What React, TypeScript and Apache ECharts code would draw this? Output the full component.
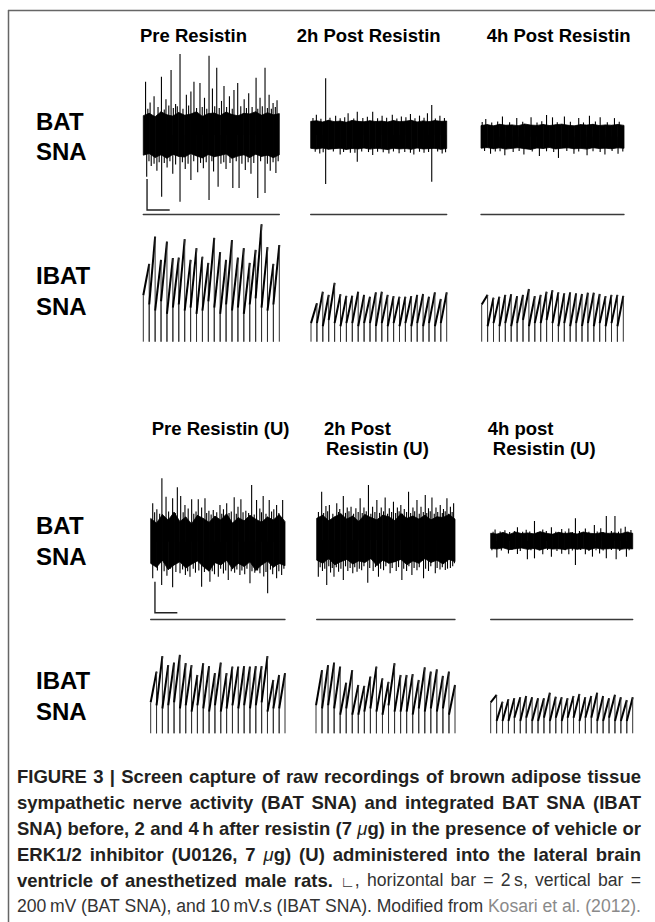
import { useEffect, useRef } from "react";
import * as echarts from "echarts";

// ================= DATA =================
// Texts
const topTitles = ["Pre Resistin", "2h Post Resistin", "4h Post Resistin"];
const bottomTitles = [["Pre Resistin (U)"], ["2h Post", "Resistin (U)"], ["4h post", " Resistin (U)"]];
const rowLabelsBat = ["BAT", "SNA"];
const rowLabelsIbat = ["IBAT", "SNA"];

// Scale bar (horizontal = 2 s, vertical = 200 mV)
const scaleBarSeconds = 2;
const scaleBarMillivolts = 200;
// anchor of the scale bar inside the first panel [s, mV]
const scaleBarAnchorTop = [0.33, -284];
const scaleBarAnchorBottom = [0.38, -258];

// BAT SNA raw recordings: 12 s per trace; envelope samples spread evenly over the trace (mV)
const panelSeconds = 12;

// --- vehicle: Pre Resistin
const batPreUpper = [125, 140, 118, 150, 130, 122, 145, 128, 135, 150, 120, 138, 142, 126, 148, 132, 124, 140, 136, 150, 128, 144, 130, 138];
const batPreLower = [-130, -120, -145, -128, -150, -125, -138, -142, -120, -135, -148, -126, -140, -132, -122, -150, -136, -128, -145, -124, -138, -130, -146, -128];
const batPreSpikesUp = [[0.2, 344], [0.4, 170], [0.6, 210], [0.95, 250], [1.3, 180], [1.6, 376], [1.85, 165], [2.0, 230], [2.25, 190], [2.45, 419], [2.65, 175], [2.85, 200], [3.0, 185], [3.24, 523], [3.5, 170], [3.8, 260], [4.0, 190], [4.2, 280], [4.47, 344], [4.7, 175], [5.0, 335], [5.2, 180], [5.4, 240], [5.6, 170], [5.8, 512], [6.1, 300], [6.3, 185], [6.48, 434], [6.7, 175], [6.9, 220], [7.12, 316], [7.35, 180], [7.6, 250], [7.85, 170], [8.0, 290], [8.33, 335], [8.6, 185], [8.9, 230], [9.1, 175], [9.3, 270], [9.6, 180], [9.95, 370], [10.1, 170], [10.3, 240], [10.5, 185], [10.74, 434], [10.95, 175], [11.1, 260], [11.3, 170], [11.45, 206], [11.65, 180], [11.8, 225]];
const batPreSpikesDown = [[0.3, -269], [0.5, -170], [0.7, -200], [0.95, -185], [1.2, -230], [1.4, -175], [1.62, -398], [1.85, -180], [2.1, -210], [2.35, -170], [2.6, -250], [2.85, -190], [3.24, -430], [3.45, -175], [3.7, -220], [3.95, -185], [4.2, -290], [4.45, -170], [4.8, -240], [5.05, -180], [5.3, -215], [5.55, -175], [5.8, -419], [6.05, -170], [6.2, -235], [6.6, -334], [6.85, -185], [7.1, -175], [7.3, -220], [7.65, -180], [7.9, -342], [8.2, -170], [8.45, -342], [8.7, -185], [9.0, -225], [9.25, -175], [9.5, -250], [9.75, -180], [10.1, -406], [10.35, -170], [10.74, -374], [10.95, -185], [11.2, -230], [11.45, -175], [11.7, -245], [11.9, -170]];

// --- vehicle: 2h Post Resistin
const bat2hUpper = [88, 92, 84, 95, 86, 90, 82, 94, 88, 85, 92, 87, 90, 84, 93, 86, 89, 95, 84, 91, 86, 93, 88, 90];
const bat2hLower = [-86, -90, -84, -92, -88, -85, -93, -87, -90, -84, -91, -86, -89, -94, -85, -90, -87, -92, -84, -90, -88, -86, -92, -87];
const bat2hSpikesUp = [[0.2, 110], [0.5, 130], [0.9, 105], [1.32, 366], [1.7, 112], [2.2, 125], [2.6, 108], [3.0, 115], [3.3, 140], [3.8, 106], [4.11, 150], [4.6, 110], [5.0, 118], [5.47, 150], [5.9, 108], [6.3, 125], [6.7, 112], [7.2, 130], [7.6, 106], [8.0, 120], [8.4, 114], [8.8, 135], [9.2, 108], [9.6, 125], [10.0, 112], [10.3, 140], [10.68, 194], [11.0, 106], [11.4, 125], [11.8, 110]];
const bat2hSpikesDown = [[0.4, -108], [0.8, -120], [1.1, -112], [1.32, -316], [2.0, -106], [2.6, -125], [2.9, -110], [3.5, -115], [3.9, -114], [4.11, -172], [4.5, -106], [5.1, -110], [5.47, -129], [5.9, -108], [6.4, -112], [6.9, -120], [7.3, -106], [7.8, -118], [8.3, -110], [8.8, -114], [9.1, -125], [9.6, -108], [10.0, -115], [10.4, -110], [10.68, -301], [11.2, -106], [11.6, -120], [11.9, -112]];

// --- vehicle: 4h Post Resistin
const bat4hUpper = [72, 78, 70, 80, 74, 76, 71, 82, 75, 73, 79, 72, 77, 81, 74, 70, 78, 75, 80, 72, 76, 74, 79, 73];
const bat4hLower = [-74, -70, -78, -72, -80, -75, -71, -77, -82, -73, -76, -70, -79, -74, -72, -78, -75, -80, -71, -76, -74, -78, -72, -75];
const bat4hSpikesUp = [[0.1, 95], [0.4, 115], [0.9, 92], [1.4, 98], [1.8, 130], [2.4, 94], [3.0, 120], [3.5, 96], [4.2, 125], [4.7, 92], [5.1, 100], [5.5, 140], [6.0, 125], [6.4, 94], [7.0, 130], [7.5, 96], [8.2, 120], [8.6, 92], [9.1, 135], [9.6, 98], [10.0, 125], [10.6, 94], [11.2, 120], [11.6, 96]];
const bat4hSpikesDown = [[0.3, -92], [0.8, -110], [1.2, -96], [1.6, -94], [2.0, -120], [2.7, -98], [3.2, -92], [3.6, -115], [4.3, -96], [4.9, -125], [5.5, -94], [6.1, -98], [6.5, -137], [7.2, -92], [7.8, -110], [8.2, -96], [8.9, -120], [9.4, -94], [10.0, -98], [10.4, -115], [11.0, -92], [11.5, -110], [11.9, -95]];

// --- U0126: Pre Resistin (U)
const batPreUUpper = [150, 120, 175, 140, 190, 130, 160, 115, 170, 150, 125, 165, 140, 180, 120, 155, 135, 170, 145, 125, 160, 140, 175, 130];
const batPreULower = [-140, -165, -120, -180, -150, -130, -170, -145, -125, -160, -190, -135, -150, -120, -175, -140, -160, -130, -185, -150, -125, -165, -140, -155];
const batPreUSpikesUp = [[0.18, 248], [0.35, 190], [0.55, 210], [0.8, 180], [1.0, 409], [1.37, 290], [1.6, 195], [1.96, 280], [2.2, 185], [2.38, 351], [2.68, 295], [2.9, 190], [3.06, 237], [3.35, 215], [3.66, 274], [3.85, 180], [4.05, 195], [4.25, 274], [4.55, 220], [4.85, 280], [5.0, 185], [5.2, 200], [5.4, 175], [5.59, 205], [5.9, 190], [6.19, 237], [6.35, 180], [6.5, 210], [6.79, 248], [7.0, 185], [7.2, 195], [7.46, 286], [7.65, 180], [7.8, 225], [8.06, 274], [8.25, 190], [8.5, 200], [8.75, 185], [9.02, 366], [9.25, 175], [9.46, 269], [9.75, 215], [9.9, 190], [10.05, 295], [10.3, 180], [10.59, 269], [10.8, 195], [11.0, 210], [11.25, 237], [11.45, 185], [11.79, 269]];
const batPreUSpikesDown = [[0.18, -236], [0.6, -185], [0.98, -279], [1.2, -190], [1.45, -220], [1.75, -175], [1.96, -294], [2.25, -195], [2.62, -204], [2.85, -180], [3.1, -215], [3.3, -190], [3.51, -226], [3.8, -175], [4.0, -200], [4.3, -185], [4.55, -290], [4.8, -195], [5.1, -180], [5.29, -258], [5.5, -190], [5.7, -210], [6.04, -226], [6.25, -175], [6.5, -205], [6.7, -185], [6.93, -247], [7.2, -190], [7.5, -200], [7.7, -180], [7.97, -215], [8.15, -185], [8.4, -210], [8.6, -175], [8.87, -268], [9.05, -190], [9.3, -200], [9.55, -185], [9.76, -204], [10.1, -225], [10.3, -195], [10.45, -333], [10.7, -180], [10.9, -210], [11.25, -236], [11.45, -190], [11.7, -215], [11.9, -175]];

// --- U0126: 2h Post Resistin (U)
const bat2hUUpper = [140, 160, 125, 150, 170, 135, 155, 120, 165, 145, 130, 160, 150, 125, 170, 140, 155, 135, 160, 130, 150, 145, 165, 135];
const bat2hULower = [-130, -150, -120, -160, -140, -125, -155, -135, -145, -120, -165, -130, -150, -140, -125, -160, -135, -150, -120, -145, -130, -155, -125, -140];
const bat2hUSpikesUp = [[0.15, 180], [0.43, 312], [0.6, 175], [0.8, 220], [0.95, 185], [1.1, 226], [1.4, 170], [1.74, 237], [1.9, 180], [2.0, 200], [2.31, 284], [2.5, 175], [2.65, 210], [2.8, 185], [2.98, 215], [3.2, 170], [3.4, 205], [3.6, 180], [3.77, 269], [3.95, 175], [4.1, 210], [4.3, 185], [4.49, 355], [4.7, 170], [4.85, 215], [5.05, 180], [5.22, 258], [5.45, 175], [5.6, 210], [5.8, 185], [5.94, 275], [6.15, 170], [6.3, 205], [6.5, 180], [6.66, 247], [6.85, 175], [7.0, 210], [7.15, 185], [7.3, 226], [7.45, 170], [7.6, 200], [7.8, 180], [7.97, 312], [8.15, 175], [8.35, 210], [8.5, 185], [8.7, 258], [8.9, 170], [9.05, 215], [9.25, 180], [9.42, 290], [9.55, 175], [9.7, 205], [9.85, 185], [10.0, 275], [10.2, 170], [10.35, 210], [10.5, 180], [10.72, 226], [10.9, 175], [11.0, 200], [11.15, 185], [11.3, 269], [11.45, 170], [11.6, 215], [11.75, 180], [11.88, 237]];
const bat2hUSpikesDown = [[0.14, -237], [0.3, -175], [0.5, -200], [0.7, -185], [0.87, -290], [1.05, -170], [1.2, -210], [1.35, -180], [1.5, -237], [1.7, -175], [1.9, -205], [2.1, -185], [2.31, -258], [2.5, -170], [2.7, -200], [2.9, -180], [3.13, -215], [3.3, -175], [3.5, -205], [3.7, -185], [3.9, -195], [4.1, -170], [4.43, -275], [4.6, -180], [4.9, -200], [5.1, -175], [5.36, -237], [5.55, -185], [5.8, -195], [6.0, -170], [6.37, -215], [6.55, -180], [6.9, -200], [7.1, -175], [7.39, -258], [7.55, -185], [7.8, -200], [8.0, -170], [8.26, -226], [8.45, -180], [8.7, -195], [8.9, -175], [9.27, -247], [9.45, -185], [9.7, -200], [9.9, -170], [10.29, -215], [10.45, -180], [10.7, -190], [10.9, -175], [11.16, -194], [11.35, -185], [11.6, -180], [11.8, -170], [11.95, -150]];

// --- U0126: 4h post Resistin (U)
const bat4hUUpper = [50, 45, 55, 42, 58, 48, 52, 46, 60, 50, 44, 56, 48, 53, 45, 58, 50, 47, 55, 49, 52, 46, 57, 50];
const bat4hULower = [-48, -52, -44, -56, -50, -45, -54, -48, -58, -46, -52, -50, -55, -47, -53, -49, -56, -45, -52, -50, -47, -54, -49, -51];
const bat4hUSpikesUp = [[0.2, 60], [0.37, 75], [0.8, 62], [1.2, 70], [1.6, 58], [2.0, 65], [2.26, 88], [2.7, 60], [3.0, 72], [3.3, 62], [3.7, 129], [4.0, 58], [4.4, 75], [4.7, 65], [5.13, 88], [5.5, 60], [6.0, 78], [6.3, 62], [6.6, 80], [6.9, 58], [7.16, 146], [7.5, 65], [8.0, 80], [8.3, 60], [8.76, 103], [9.0, 62], [9.3, 82], [9.5, 58], [9.77, 161], [10.2, 65], [10.5, 161], [10.8, 60], [11.0, 80], [11.37, 92], [11.6, 62], [11.85, 71]];
const bat4hUSpikesDown = [[0.1, -60], [0.52, -107], [0.9, -62], [1.5, -80], [1.8, -58], [2.26, -84], [2.5, -65], [3.1, -118], [3.4, -60], [3.7, -112], [4.1, -62], [4.4, -85], [4.8, -58], [5.13, -101], [5.6, -65], [6.0, -82], [6.3, -60], [6.6, -85], [6.9, -62], [7.16, -155], [7.6, -58], [8.0, -85], [8.3, -65], [8.6, -101], [8.9, -60], [9.2, -80], [9.5, -62], [9.77, -112], [10.2, -58], [10.6, -118], [10.9, -65], [11.47, -101], [11.7, -60]];

// IBAT SNA integrated bursts (mV·s): per cycle peak and level where the ramp begins
const ibatPrePeaks = [25.1, 33.9, 26.4, 32.3, 27.0, 27.1, 33.1, 26.4, 30.2, 27.4, 25.4, 33.5, 28.9, 26.4, 32.8, 27.1, 30.2, 25.4, 29.6, 37.9, 30.5, 25.1, 31.2];
const ibatPreLows = [15, 12, 10, 13, 9, 11, 12, 10, 11, 9, 10, 13, 11, 9, 12, 10, 11, 9, 12, 14, 11, 10, 12];
const ibat2hPeaks = [12.4, 16.1, 15.1, 19.0, 15.3, 14.8, 14.8, 16.1, 15.1, 14.5, 15.9, 16.1, 15.1, 14.7, 14.5, 14.5, 14.7, 15.1, 15.4, 14.5, 15.9, 13.8, 15.9];
const ibat2hLows = [6, 6, 5, 7, 6, 5, 6, 6, 5, 6, 6, 5, 6, 5, 6, 5, 6, 5, 6, 5, 6, 5, 6];
const ibat4hPeaks = [15.1, 14.2, 14.5, 15.1, 15.3, 14.7, 15.1, 17.0, 14.7, 15.1, 16.1, 16.6, 15.9, 15.6, 15.9, 15.6, 15.4, 15.8, 15.8, 15.4, 14.7, 15.1, 15.1, 14.8];
const ibat4hLows = [12, 5, 6, 5, 6, 5, 6, 7, 5, 6, 6, 7, 6, 5, 6, 5, 6, 5, 6, 5, 6, 5, 6, 5];
const ibatPreUPeaks = [19.9, 24.9, 22.0, 22.8, 25.3, 22.6, 22.0, 18.8, 22.6, 21.7, 19.4, 22.8, 19.4, 21.5, 21.5, 21.7, 21.5, 21.7, 21.7, 24.9, 17.2, 18.8, 19.4];
const ibatPreULows = [10, 9, 8, 9, 10, 8, 9, 7, 9, 8, 7, 9, 7, 8, 9, 8, 9, 8, 9, 10, 7, 8, 8];
const ibat2hUPeaks = [20.4, 22.0, 22.8, 21.5, 16.3, 20.4, 15.6, 15.3, 18.3, 21.5, 17.7, 16.6, 22.6, 18.8, 18.8, 19.1, 17.2, 21.3, 19.9, 20.6, 18.5, 19.9, 15.6];
const ibat2hULows = [9, 8, 9, 8, 6, 8, 6, 6, 7, 8, 7, 6, 9, 7, 7, 7, 6, 8, 7, 8, 7, 8, 6];
const ibat4hUPeaks = [12.4, 10.2, 11.0, 11.3, 11.6, 12.0, 11.6, 11.3, 11.3, 13.1, 11.8, 11.6, 11.3, 12.0, 12.7, 11.6, 12.0, 13.1, 12.0, 11.3, 12.4, 11.6, 10.7, 11.6];
const ibat4hULows = [10, 4, 4, 4, 5, 4, 5, 4, 4, 5, 4, 5, 4, 5, 5, 4, 5, 5, 4, 4, 5, 4, 4, 4];

// Caption (segments: style key, text)
const captionLines: [string, string][][] = [
  [["b", "FIGURE 3 | Screen capture of raw recordings of brown adipose tissue"]],
  [["b", "sympathetic nerve activity (BAT SNA) and integrated BAT SNA (IBAT"]],
  [["b", "SNA) before, 2 and 4\u2009h after resistin (7 "], ["mu", "\u03bc"], ["b", "g) in the presence of vehicle or"]],
  [["b", "ERK1/2 inhibitor (U0126, 7 "], ["mu", "\u03bc"], ["b", "g) (U) administered into the lateral brain"]],
  [["b", "ventricle of anesthetized male rats. "], ["sym", "\u221f"], ["r", ", horizontal bar = 2\u2009s, vertical bar ="]],
  [["r", "200\u2009mV (BAT SNA), and 10\u2009mV.s (IBAT SNA). Modified from "], ["g", "Kosari et al. (2012)."]],
];

// ================= LAYOUT / STYLE =================
const FONT = '"Liberation Sans", Arial, Helvetica, sans-serif';
const MV_PX = 0.155; // px per mV
const MVS_PX = 3.1; // px per mV·s
const BAT_MAX = 600;
const IBAT_MAX = 40;

const batLayout = [
  { left: 143.3, width: 136, center: 135, sep: 214.3 },
  { left: 310.7, width: 136, center: 135, sep: 214.3 },
  { left: 481, width: 143, center: 136.7, sep: 214.3 },
  { left: 150.7, width: 134.3, center: 541.7, sep: 619.3 },
  { left: 316.7, width: 138.3, center: 540, sep: 619.3 },
  { left: 490.7, width: 142, center: 541, sep: 619.3 },
];
const ibatLayout = [
  { left: 143.3, width: 136, base: 341.7 },
  { left: 311, width: 135.7, base: 341.7 },
  { left: 481.7, width: 141.6, base: 341.7 },
  { left: 150.7, width: 134.3, base: 733.3 },
  { left: 316, width: 139, base: 733.3 },
  { left: 490.7, width: 142, base: 733.3 },
];
const CAPTION = { left: 17, right: 641, top: 776, lineStep: 26 };
const capStyles: Record<string, { size: number; weight: string; style: string; fill: string }> = {
  b: { size: 18.5, weight: "bold", style: "normal", fill: "#231f20" },
  mu: { size: 18.5, weight: "normal", style: "italic", fill: "#231f20" },
  r: { size: 17.6, weight: "normal", style: "normal", fill: "#333" },
  sym: { size: 15, weight: "normal", style: "normal", fill: "#333" },
  g: { size: 17.6, weight: "normal", style: "normal", fill: "#8a8a8a" },
};

const batPanels = [
  { upper: batPreUpper, lower: batPreLower, up: batPreSpikesUp, down: batPreSpikesDown },
  { upper: bat2hUpper, lower: bat2hLower, up: bat2hSpikesUp, down: bat2hSpikesDown },
  { upper: bat4hUpper, lower: bat4hLower, up: bat4hSpikesUp, down: bat4hSpikesDown },
  { upper: batPreUUpper, lower: batPreULower, up: batPreUSpikesUp, down: batPreUSpikesDown },
  { upper: bat2hUUpper, lower: bat2hULower, up: bat2hUSpikesUp, down: bat2hUSpikesDown },
  { upper: bat4hUUpper, lower: bat4hULower, up: bat4hUSpikesUp, down: bat4hUSpikesDown },
];
const ibatPanels = [
  { peaks: ibatPrePeaks, lows: ibatPreLows },
  { peaks: ibat2hPeaks, lows: ibat2hLows },
  { peaks: ibat4hPeaks, lows: ibat4hLows },
  { peaks: ibatPreUPeaks, lows: ibatPreULows },
  { peaks: ibat2hUPeaks, lows: ibat2hULows },
  { peaks: ibat4hUPeaks, lows: ibat4hULows },
];

const cssFont = (k: string) => {
  const s = capStyles[k];
  return `${s.style} ${s.weight} ${s.size}px ${FONT}`;
};

function captionGraphics() {
  const ctx = document.createElement("canvas").getContext("2d")!;
  const measure = (k: string, t: string) => {
    ctx.font = cssFont(k);
    return ctx.measureText(t).width;
  };
  const out: any[] = [];
  captionLines.forEach((segs, li) => {
    const words: [string, string][][] = [];
    let cur: [string, string][] = [];
    segs.forEach(([k, text]) => {
      text.split(" ").forEach((part, idx) => {
        if (idx > 0 && cur.length) {
          words.push(cur);
          cur = [];
        }
        if (part) cur.push([k, part]);
      });
    });
    if (cur.length) words.push(cur);
    const widths = words.map((w) => w.reduce((s, [k, t]) => s + measure(k, t), 0));
    const total = widths.reduce((a, b) => a + b, 0);
    const gap = (CAPTION.right - CAPTION.left - total) / (words.length - 1);
    let x = CAPTION.left;
    const y = CAPTION.top + li * CAPTION.lineStep;
    words.forEach((w) => {
      w.forEach(([k, t]) => {
        const s = capStyles[k];
        out.push({
          type: "text", x, y: k === "sym" ? y + 1.5 : y,
          style: { text: t, fill: s.fill, fontSize: s.size, fontWeight: s.weight, fontStyle: s.style, fontFamily: FONT, align: "left", verticalAlign: "middle" },
        });
        x += measure(k, t);
      });
      x += gap;
    });
  });
  return out;
}

function buildOption() {
  const grid: any[] = [];
  const xAxis: any[] = [];
  const yAxis: any[] = [];
  const series: any[] = [];

  batLayout.forEach((L, k) => {
    const top = L.center - BAT_MAX * MV_PX;
    const minMv = -(L.sep - L.center) / MV_PX;
    const gi = grid.length;
    grid.push({ left: L.left, top, width: L.width, height: L.sep - top, containLabel: false });
    xAxis.push({
      type: "value", gridIndex: gi, min: 0, max: panelSeconds,
      axisLine: { show: true, onZero: false, lineStyle: { color: "#3a3a3a", width: 1.4 } },
      axisTick: { show: false }, axisLabel: { show: false }, splitLine: { show: false },
    });
    yAxis.push({ type: "value", gridIndex: gi, min: minMv, max: BAT_MAX, show: false, splitLine: { show: false } });
    const P = batPanels[k];
    const n = P.upper.length;
    const toT = (j: number) => (j * panelSeconds) / (n - 1);
    const quads = P.upper.slice(0, n - 1).map((u, j) => [toT(j), u, P.lower[j], toT(j + 1), P.upper[j + 1], P.lower[j + 1]]);
    series.push({
      type: "custom", coordinateSystem: "cartesian2d", xAxisIndex: gi, yAxisIndex: gi, silent: true,
      data: quads,
      renderItem: (_p: any, api: any) => {
        const pts = [
          api.coord([api.value(0), api.value(1)]),
          api.coord([api.value(3), api.value(4)]),
          api.coord([api.value(3), api.value(5)]),
          api.coord([api.value(0), api.value(2)]),
        ];
        return { type: "polygon", shape: { points: pts }, style: { fill: "#000", stroke: "#000", lineWidth: 0.8 } };
      },
      z: 2,
    });
    series.push({
      type: "custom", coordinateSystem: "cartesian2d", xAxisIndex: gi, yAxisIndex: gi, silent: true,
      data: [...P.up, ...P.down],
      renderItem: (_p: any, api: any) => {
        const a = api.coord([api.value(0), 0]);
        const b = api.coord([api.value(0), api.value(1)]);
        return { type: "line", shape: { x1: a[0], y1: a[1], x2: b[0], y2: b[1] }, style: { stroke: "#000", lineWidth: 1.1 } };
      },
      z: 3,
    });
    if (k === 0 || k === 3) {
      const anchor = k === 0 ? scaleBarAnchorTop : scaleBarAnchorBottom;
      series.push({
        type: "custom", coordinateSystem: "cartesian2d", xAxisIndex: gi, yAxisIndex: gi, silent: true,
        data: [anchor],
        renderItem: (_p: any, api: any) => {
          const t0 = api.value(0), v0 = api.value(1);
          const p0 = api.coord([t0, v0]);
          const p1 = api.coord([t0, v0 - scaleBarMillivolts]);
          const p2 = api.coord([t0 + scaleBarSeconds, v0 - scaleBarMillivolts]);
          return { type: "polyline", shape: { points: [p0, p1, p2] }, style: { stroke: "#222", lineWidth: 1.4, fill: null } };
        },
        z: 3,
      });
    }
  });

  ibatLayout.forEach((L, k) => {
    const P = ibatPanels[k];
    const top = L.base - IBAT_MAX * MVS_PX;
    const gi = grid.length;
    grid.push({ left: L.left, top, width: L.width, height: L.base - top, containLabel: false });
    xAxis.push({ type: "value", gridIndex: gi, min: 0, max: P.peaks.length, show: false, splitLine: { show: false } });
    yAxis.push({ type: "value", gridIndex: gi, min: 0, max: IBAT_MAX, show: false, splitLine: { show: false } });
    series.push({
      type: "custom", coordinateSystem: "cartesian2d", xAxisIndex: gi, yAxisIndex: gi, silent: true,
      data: P.peaks.map((pk, i) => [i, pk, P.lows[i]]),
      renderItem: (_p: any, api: any) => {
        const i = api.value(0), pk = api.value(1), lo = api.value(2);
        const b0 = api.coord([i, 0]);
        const s0 = api.coord([i, lo]);
        const top = api.coord([i + 1, pk]);
        const b1 = api.coord([i + 1, 0]);
        return {
          type: "group",
          children: [
            { type: "line", shape: { x1: b0[0], y1: b0[1], x2: s0[0], y2: s0[1] }, style: { stroke: "#333", lineWidth: 1 } },
            { type: "line", shape: { x1: s0[0], y1: s0[1], x2: top[0], y2: top[1] }, style: { stroke: "#000", lineWidth: 2 } },
            { type: "line", shape: { x1: top[0], y1: top[1], x2: b1[0], y2: b1[1] }, style: { stroke: "#333", lineWidth: 1 } },
          ],
        };
      },
    });
  });

  const graphic: any[] = [];
  graphic.push({ type: "line", shape: { x1: 8.5, y1: 10, x2: 8.5, y2: 922 }, style: { stroke: "#666", lineWidth: 1.5 } });
  graphic.push({ type: "line", shape: { x1: 8, y1: 10.5, x2: 655, y2: 10.5 }, style: { stroke: "#666", lineWidth: 1.5 } });

  const txt = (text: string, x: number, y: number, size: number) => ({
    type: "text", x, y,
    style: { text, fill: "#000", fontSize: size, fontWeight: "bold", fontFamily: FONT, align: "left", verticalAlign: "middle" },
  });
  const topTitleX = [140, 296.7, 486.7];
  topTitles.forEach((t, i) => graphic.push(txt(t, topTitleX[i], 35.5, 18.5)));
  const botTitleX = [[151.7], [324, 326], [487.7, 487.7]];
  bottomTitles.forEach((lines, i) => lines.forEach((t, j) => graphic.push(txt(t, botTitleX[i][j], 428.3 + j * 20, 18.5))));

  const labelY = [[121, 151.2], [275.5, 306], [525.5, 556.7], [680.3, 711]];
  [rowLabelsBat, rowLabelsIbat, rowLabelsBat, rowLabelsIbat].forEach((lab, i) =>
    lab.forEach((t, j) => graphic.push(txt(t, 36, labelY[i][j], 24)))
  );

  graphic.push(...captionGraphics());

  return { animation: false, backgroundColor: "#fff", grid, xAxis, yAxis, series, graphic };
}

export default function App() {
  const ref = useRef<HTMLDivElement>(null);
  useEffect(() => {
    const chart = echarts.init(ref.current!, null, { renderer: "svg" });
    chart.setOption(buildOption() as any);
    return () => chart.dispose();
  }, []);
  return <div ref={ref} style={{ position: "absolute", left: 0, top: 0, width: 655, height: 922, background: "#fff" }} />;
}
